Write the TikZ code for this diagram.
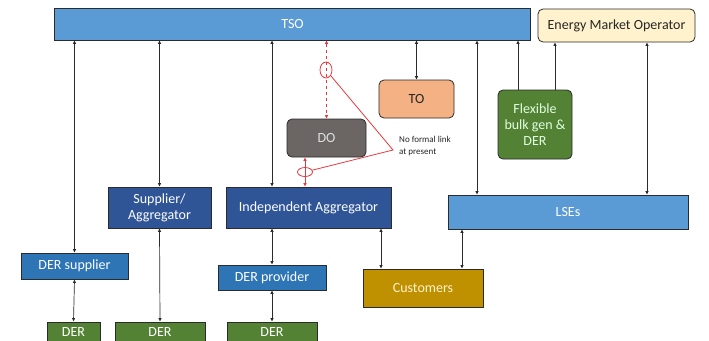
\documentclass[tikz,border=0pt]{standalone}
\usepackage{fontspec}
\setmainfont{Carlito}
\usetikzlibrary{arrows.meta,shapes.geometric}

\definecolor{tsoblue}{HTML}{5B9BD5}
\definecolor{darkblue}{HTML}{2F5597}
\definecolor{midblue}{HTML}{2E75B6}
\definecolor{dergreen}{HTML}{548235}
\definecolor{emocream}{HTML}{FFF2CC}
\definecolor{toorange}{HTML}{F4B183}
\definecolor{dogray}{HTML}{6B6564}
\definecolor{custgold}{HTML}{BF9000}
\definecolor{linkred}{HTML}{E8383D}
\definecolor{edge}{HTML}{2B2B2B}

\tikzset{
  box/.style={draw=edge, line width=0.8pt, inner sep=0pt, align=center,
    text=white, font=\fontsize{14}{16}\selectfont},
  rbox/.style={box, rounded corners=5pt},
  conn/.style={draw=edge, line width=0.7pt,
    {Latex[length=3.5pt,width=3.5pt]}-{Latex[length=3.5pt,width=3.5pt]}},
  oneway/.style={draw=edge, line width=0.7pt, -{Latex[length=3.5pt,width=3.5pt]}},
  redlink/.style={draw=linkred, line width=0.8pt},
}

\begin{document}
\begin{tikzpicture}[x=1pt,y=-1pt]
\useasboundingbox[fill=white] (0,0) rectangle (709,340);

% operators along the top
\node[box, fill=tsoblue, minimum width=476, minimum height=32] (tso) at (292.5,24) {TSO};
\node[rbox, fill=emocream, text=black!85, minimum width=157, minimum height=33] (emo) at (616.5,25.5) {Energy Market Operator};
\node[rbox, fill=toorange, text=black!85, minimum width=75, minimum height=38] (to) at (416.5,99) {TO};
\node[rbox, fill=dergreen, text=white!88!green, minimum width=74, minimum height=69] (flex) at (535,124.5) {Flexible\\bulk gen \&\\DER};
\node[rbox, fill=dogray, text=white!88!black, minimum width=79, minimum height=38] (do) at (326.5,138) {DO};

% aggregators and suppliers
\node[box, fill=darkblue, minimum width=103, minimum height=41] (supagg) at (159.5,207.5) {Supplier/\\Aggregator};
\node[box, fill=darkblue, minimum width=165, minimum height=41] (ia) at (308.5,207.5) {Independent Aggregator};
\node[box, fill=midblue, minimum width=107, minimum height=26] (dersup) at (74.5,266) {DER supplier};
\node[box, fill=midblue, minimum width=108, minimum height=25] (derprov) at (272,277.5) {DER provider};
\node[box, fill=tsoblue, minimum width=240, minimum height=34] (lse) at (568,212) {LSEs};
\node[box, fill=custgold, text=emocream, minimum width=120, minimum height=38] (cust) at (423,288) {Customers};

% DER resources at the bottom
\node[box, fill=dergreen, minimum width=53, minimum height=20] (der1) at (73.5,332) {DER};
\node[box, fill=dergreen, minimum width=90, minimum height=20] (der2) at (160,332) {DER};
\node[box, fill=dergreen, minimum width=90, minimum height=20] (der3) at (272,332) {DER};

% x positions of links that are off a box centre
\coordinate (xlse) at (477,0);
\coordinate (xflexa) at (518,0);
\coordinate (xflexb) at (555,0);
\coordinate (xemo) at (647,0);
\coordinate (xcusta) at (381,0);
\coordinate (xcustb) at (462,0);
\coordinate (xdo) at (305,0);

% connectors
\draw[conn] (tso.south -| dersup.north) -- (dersup.north);
\draw[conn] (tso.south -| supagg.north) -- (supagg.north);
\draw[conn] (tso.south -| derprov.north) -- (ia.north -| derprov.north);
\draw[conn] (tso.south -| to.north) -- (to.north);
\draw[conn] (tso.south -| xlse) -- (lse.north -| xlse);
\draw[oneway] (flex.north -| xflexa) -- (tso.south -| xflexa);
\draw[oneway] (flex.north -| xflexb) -- (emo.south -| xflexb);
\draw[conn] (emo.south -| xemo) -- (lse.north -| xemo);
\draw[conn] (dersup.south) -- (der1.north);
\draw[conn] (supagg.south) -- (der2.north);
\draw[conn] (ia.south -| derprov.north) -- (derprov.north);
\draw[conn] (derprov.south) -- (der3.north);
\draw[conn] (ia.south -| xcusta) -- (cust.north -| xcusta);
\draw[conn] (lse.south -| xcustb) -- (cust.north -| xcustb);

% DO links, not yet formalised
\draw[redlink, dashed, {Latex[length=3.5pt,width=3.5pt]}-{Latex[length=3.5pt,width=3.5pt]}] (tso.south -| do.north) -- (do.north);
\draw[redlink, {Latex[length=3.5pt,width=3.5pt]}-{Latex[length=3.5pt,width=3.5pt]}] (do.south -| xdo) -- (ia.north -| xdo);
\node[redlink, draw, ellipse, minimum width=12, minimum height=16, inner sep=0] (ringa) at (326,70) {};
\node[redlink, draw, ellipse, minimum width=15, minimum height=9, inner sep=0] (ringb) at (305,172) {};
\coordinate (callout) at (393,150);
\draw[redlink] (ringa) -- (callout) -- (ringb);
\node[anchor=north west, align=left, inner sep=0, font=\fontsize{9}{12}\selectfont, text=black!85] (nolink) at (399,136) {No formal link\\at present};
\end{tikzpicture}
\end{document}
